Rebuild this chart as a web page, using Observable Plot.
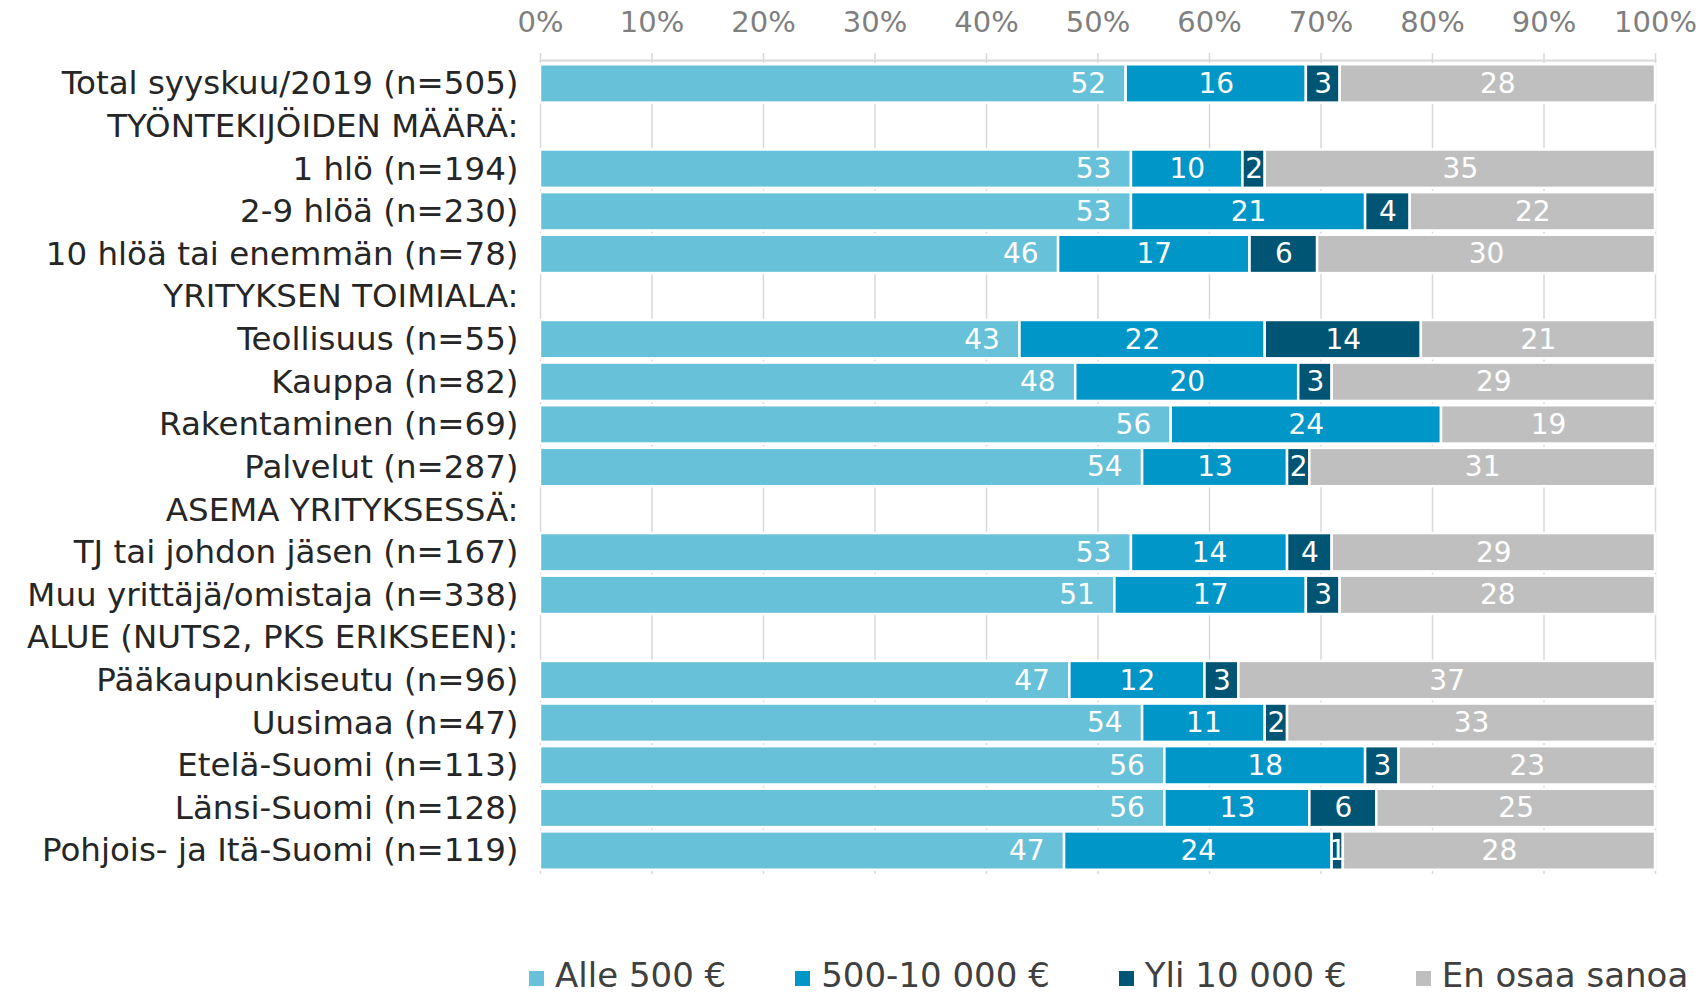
<!DOCTYPE html>
<html>
<head>
<meta charset="utf-8">
<script src="https://cdn.jsdelivr.net/npm/d3@7"></script>
<script src="https://cdn.jsdelivr.net/npm/@observablehq/plot@0.6"></script>
<style>
  body { margin: 0; background: #fff; font-family: "DejaVu Sans", sans-serif; overflow: hidden; }
  #chart svg { font-family: "DejaVu Sans", sans-serif; }
  #legend { position: absolute; left: 529px; top: 955px; width: max-content; white-space: nowrap; }
  #legend > div { flex-wrap: nowrap !important; }
  .lg-swatch { margin-right: 69px !important; }
  .lg-swatch > svg { margin-right: 11px !important; margin-top: 6px; }
</style>
</head>
<body>
<div id="chart"></div>
<div id="legend"></div>
<script>
const categories = [
  "Total syyskuu/2019 (n=505)",
  "TYÖNTEKIJÖIDEN MÄÄRÄ:",
  "1 hlö (n=194)",
  "2-9 hlöä (n=230)",
  "10 hlöä tai enemmän (n=78)",
  "YRITYKSEN TOIMIALA:",
  "Teollisuus (n=55)",
  "Kauppa (n=82)",
  "Rakentaminen (n=69)",
  "Palvelut (n=287)",
  "ASEMA YRITYKSESSÄ:",
  "TJ tai johdon jäsen (n=167)",
  "Muu yrittäjä/omistaja (n=338)",
  "ALUE (NUTS2, PKS ERIKSEEN):",
  "Pääkaupunkiseutu (n=96)",
  "Uusimaa (n=47)",
  "Etelä-Suomi (n=113)",
  "Länsi-Suomi (n=128)",
  "Pohjois- ja Itä-Suomi (n=119)"
];
const series = ["Alle 500 €", "500-10 000 €", "Yli 10 000 €", "En osaa sanoa"];
const alle500   = [52, null, 53, 53, 46, null, 43, 48, 56, 54, null, 53, 51, null, 47, 54, 56, 56, 47];
const mid       = [16, null, 10, 21, 17, null, 22, 20, 24, 13, null, 14, 17, null, 12, 11, 18, 13, 24];
const yli10000  = [3,  null, 2,  4,  6,  null, 14, 3,  0,  2,  null, 4,  3,  null, 3,  2,  3,  6,  1];
const enOsaa    = [28, null, 35, 22, 30, null, 21, 29, 19, 31, null, 29, 28, null, 37, 33, 23, 25, 28];
const colors = ["#67c1d8", "#0096c8", "#005474", "#bfbfbf"];
const xTicks = [0, 0.1, 0.2, 0.3, 0.4, 0.5, 0.6, 0.7, 0.8, 0.9, 1];

const valuesBySeries = [alle500, mid, yli10000, enOsaa];
const data = [];
categories.forEach((row, i) => {
  if (alle500[i] === null) return;
  series.forEach((s, j) => {
    data.push({row, series: s, value: valuesBySeries[j][i]});
  });
});

const stackOpts = {x: "value", y: "row", z: "series", offset: "normalize"};

const chart = Plot.plot({
  width: 1704,
  height: 900,
  marginTop: 60,
  marginBottom: 26,
  marginLeft: 540,
  marginRight: 49,
  style: {fontFamily: "DejaVu Sans, sans-serif", background: "#fff"},
  x: {domain: [0, 1], axis: null},
  y: {domain: categories, padding: 0.1, round: false, axis: null},
  color: {domain: series, range: colors},
  marks: [
    Plot.gridX(xTicks, {stroke: "#d9d9d9", strokeOpacity: 1, strokeWidth: 1.5}),
    Plot.barX(data, Plot.stackX({...stackOpts, fill: "series", stroke: "white", strokeWidth: 2.5})),
    Plot.textX(data, Plot.stackX2({...stackOpts,
      text: d => d.series === series[0] ? String(d.value) : "",
      textAnchor: "end", dx: -20, fill: "white", fontSize: 28})),
    Plot.textX(data, Plot.stackX({...stackOpts,
      text: d => (d.series !== series[0] && d.value > 0) ? String(d.value) : "",
      fill: "white", fontSize: 28})),
    Plot.frame({anchor: "top", stroke: "#d9d9d9", strokeWidth: 2}),
    Plot.axisX({anchor: "top", ticks: xTicks, tickFormat: d3.format(".0%"),
      tickSize: 8, tickPadding: 21, stroke: "#d9d9d9", strokeWidth: 1.5,
      fill: "#7f7f7f", fontSize: 29, label: null}),
    Plot.axisY({tickSize: 0, tickPadding: 22, fill: "#262626", fontSize: 32.5, label: null})
  ]
});
document.getElementById("chart").appendChild(chart);

const legend = Plot.legend({
  color: {domain: series, range: colors},
  legend: "swatches",
  swatchSize: 15,
  className: "lg",
  style: {fontSize: "34px", fontFamily: "DejaVu Sans, sans-serif", color: "#404040"}
});
document.getElementById("legend").appendChild(legend);
</script>
</body>
</html>
